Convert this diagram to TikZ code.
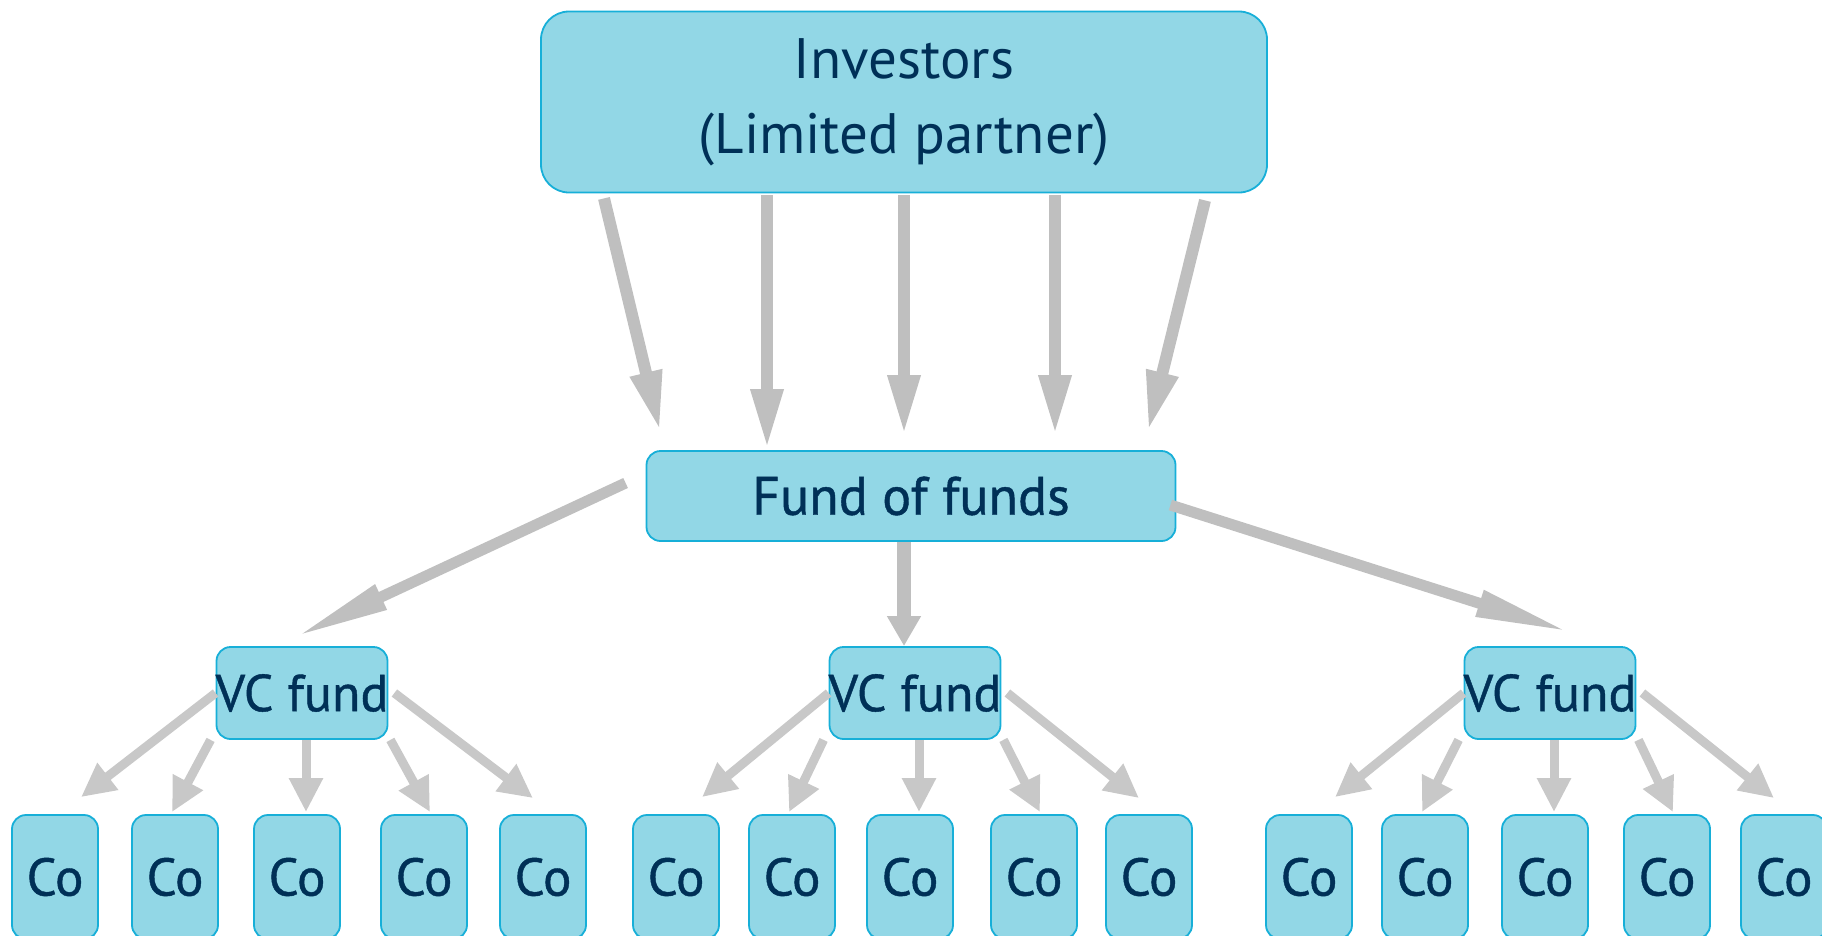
\documentclass[tikz,border=0pt]{standalone}
\usepackage{fontspec}
\setmainfont{PT Sans}
\newfontfamily\heavysans[FakeBold=0.8]{PT Sans}
\usetikzlibrary{arrows.meta}

\definecolor{boxfill}{HTML}{92D7E6}
\definecolor{boxline}{HTML}{17AFD8}
\definecolor{ink}{HTML}{003057}
\definecolor{arrowgrey}{HTML}{BFBFBF}
\definecolor{lightgrey}{HTML}{C8C8C8}

\tikzset{
  fundbox/.style={draw=boxline, fill=boxfill, line width=1.8pt, text=ink, align=center, inner sep=0pt},
  topbox/.style={fundbox, minimum width=726pt, minimum height=181pt, rounded corners=28pt, font=\fontsize{57}{75}\selectfont},
  fofbox/.style={fundbox, minimum width=529pt, minimum height=90pt, rounded corners=14pt, font=\heavysans\fontsize{54}{60}\selectfont},
  vcbox/.style={fundbox, inner xsep=-20pt, minimum width=171pt, minimum height=92pt, rounded corners=14pt, font=\heavysans\fontsize{52}{58}\selectfont},
  cobox/.style={fundbox, minimum width=86pt, minimum height=124pt, rounded corners=14pt, font=\heavysans\fontsize{53}{58}\selectfont},
  bigarrow/.style={draw=arrowgrey, line width=12pt, -{Triangle[width=30pt, length=60pt]}},
  midarrow/.style={draw=arrowgrey, line width=14pt, -{Triangle[width=32pt, length=30pt]}},
  longarrow/.style={draw=arrowgrey, line width=11pt, -{Triangle[width=25pt, length=95pt]}},
  coarrow/.style={draw=lightgrey, line width=9pt, -{Triangle[width=32pt, length=34pt]}},
}

\begin{document}
\begin{tikzpicture}[x=1pt, y=-1pt]
    \useasboundingbox (0, 0) rectangle (1822, 935);

    \node[topbox] (inv) at (904, 102) {Investors\\(Limited partner)};
    \node[fofbox] (fof) at (911, 496) {Fund of funds};

    \node[vcbox] (vc1) at (302, 693) {VC fund};
    \node[vcbox] (vc2) at (915, 693) {VC fund};
    \node[vcbox] (vc3) at (1550, 693) {VC fund};

    \node[cobox] (co1) at (55, 877) {Co};
    \node[cobox] (co2) at (175, 877) {Co};
    \node[cobox] (co3) at (297, 877) {Co};
    \node[cobox] (co4) at (424, 877) {Co};
    \node[cobox] (co5) at (543, 877) {Co};
    \node[cobox] (co6) at (676, 877) {Co};
    \node[cobox] (co7) at (792, 877) {Co};
    \node[cobox] (co8) at (910, 877) {Co};
    \node[cobox] (co9) at (1034, 877) {Co};
    \node[cobox] (co10) at (1149, 877) {Co};
    \node[cobox] (co11) at (1309, 877) {Co};
    \node[cobox] (co12) at (1425, 877) {Co};
    \node[cobox] (co13) at (1545, 877) {Co};
    \node[cobox] (co14) at (1667, 877) {Co};
    \node[cobox] (co15) at (1784, 877) {Co};

    % investors into the fund of funds
    \draw[bigarrow] ([xshift=-300pt, yshift=-5pt]inv.south) -- ([xshift=-251pt, yshift=19pt]fof.north);
    \draw[bigarrow] ([xshift=-137pt, yshift=-2pt]inv.south) -- ([xshift=-144pt, yshift=1pt]fof.north);
    \draw[bigarrow] ([yshift=-2pt]inv.south) -- ([xshift=-7pt, yshift=15pt]fof.north);
    \draw[bigarrow] ([xshift=151pt, yshift=-2pt]inv.south) -- ([xshift=144pt, yshift=15pt]fof.north);
    \draw[bigarrow] ([xshift=301pt, yshift=-7pt]inv.south) -- ([xshift=237pt, yshift=19pt]fof.north);

    % fund of funds into the VC funds
    \draw[longarrow] ([xshift=-20pt, yshift=13pt]fof.west) -- ([xshift=-7pt, yshift=9pt]vc1.north);
    \draw[midarrow] ([xshift=-7pt]fof.south) -- ([xshift=-11pt]vc2.north);
    \draw[longarrow] ([xshift=-6pt, yshift=-9pt]fof.east) -- ([xshift=20pt, yshift=14pt]vc3.north);

    % VC funds into the companies
    \draw[coarrow] (vc1.west) -- ([xshift=26pt, yshift=17pt]co1.north);
    \draw[coarrow] ([xshift=-5pt]vc1.south west) -- ([xshift=-3pt, yshift=2pt]co2.north);
    \draw[coarrow] ([xshift=4pt]vc1.south) -- ([xshift=9pt, yshift=2pt]co3.north);
    \draw[coarrow] ([xshift=2pt]vc1.south east) -- ([xshift=6pt, yshift=2pt]co4.north);
    \draw[coarrow] ([xshift=6pt]vc1.east) -- ([xshift=-10pt, yshift=16pt]co5.north);

    \draw[coarrow] (vc2.west) -- ([xshift=26pt, yshift=17pt]co6.north);
    \draw[coarrow] ([xshift=-5pt]vc2.south west) -- ([xshift=-3pt, yshift=2pt]co7.north);
    \draw[coarrow] ([xshift=4pt]vc2.south) -- ([xshift=9pt, yshift=2pt]co8.north);
    \draw[coarrow] ([xshift=2pt]vc2.south east) -- ([xshift=6pt, yshift=2pt]co9.north);
    \draw[coarrow] ([xshift=6pt]vc2.east) -- ([xshift=-10pt, yshift=16pt]co10.north);

    \draw[coarrow] (vc3.west) -- ([xshift=26pt, yshift=17pt]co11.north);
    \draw[coarrow] ([xshift=-5pt]vc3.south west) -- ([xshift=-3pt, yshift=2pt]co12.north);
    \draw[coarrow] ([xshift=4pt]vc3.south) -- ([xshift=9pt, yshift=2pt]co13.north);
    \draw[coarrow] ([xshift=2pt]vc3.south east) -- ([xshift=6pt, yshift=2pt]co14.north);
    \draw[coarrow] ([xshift=6pt]vc3.east) -- ([xshift=-10pt, yshift=16pt]co15.north);
\end{tikzpicture}
\end{document}
